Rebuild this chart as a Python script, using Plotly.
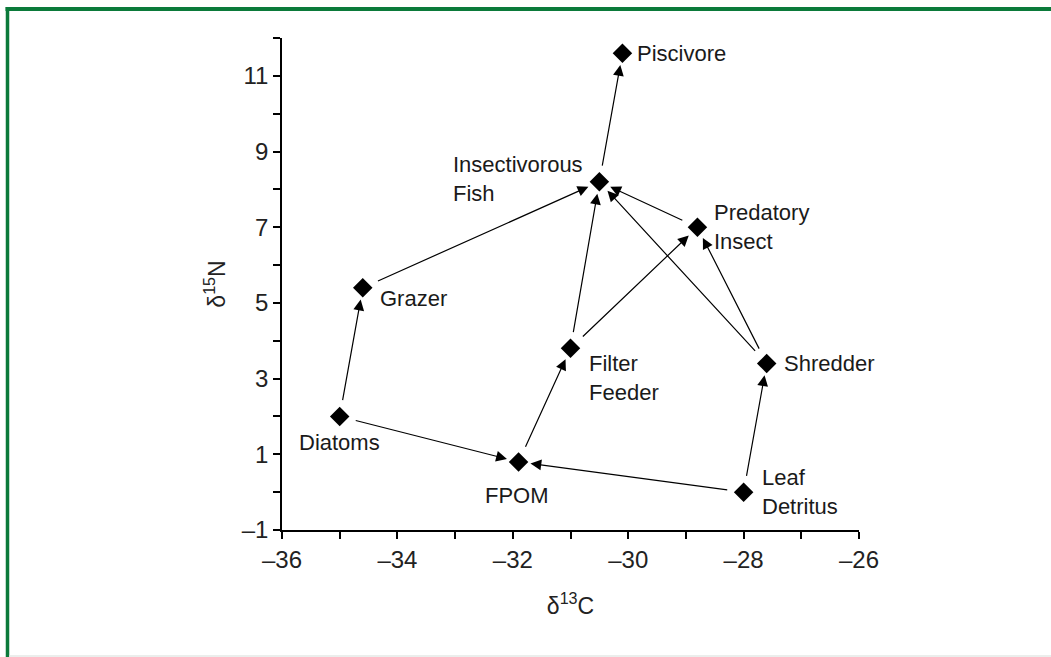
import plotly.graph_objects as go

# ---- data ----
names = ["Piscivore", "Insectivorous<br>Fish", "Predatory<br>Insect", "Grazer",
         "Filter<br>Feeder", "Shredder", "Diatoms", "FPOM", "Leaf<br>Detritus"]
d13C = [-30.1, -30.5, -28.8, -34.6, -31.0, -27.6, -35.0, -31.9, -28.0]
d15N = [11.6, 8.2, 7.0, 5.4, 3.8, 3.4, 2.0, 0.8, 0.0]

# food-web links: (source index, consumer index)
links_from = [6, 6, 3, 7, 4, 4, 8, 8, 5, 5, 2, 1]
links_to   = [3, 7, 1, 4, 1, 2, 7, 5, 1, 2, 1, 0]

x_ticks = [-36, -34, -32, -30, -28, -26]
y_ticks = [-1, 1, 3, 5, 7, 9, 11]

# label placement relative to each point (styling only)
lab_anchor = ["left", "right", "left", "left", "left", "left", "center", "center", "left"]
lab_xshift = [13, -14, 15, 15, 16, 15, 0, -2, 16]
lab_yshift = [0, 3, 0, -11, -30, 0, -26, -34, 0]

W, H = 1051, 657
ML, MR, MT, MB = 282, 192, 38, 127
FONT = "Liberation Sans Narrow, Arial Narrow, Liberation Sans, Arial, sans-serif"

fig = go.Figure()
fig.add_trace(go.Scatter(
    x=d13C, y=d15N, mode="markers",
    marker=dict(symbol="diamond", size=15, color="black"),
    hoverinfo="skip", showlegend=False))

annotations = []
for a, b in zip(links_from, links_to):
    annotations.append(dict(
        x=d13C[b], y=d15N[b], ax=d13C[a], ay=d15N[a],
        xref="x", yref="y", axref="x", ayref="y",
        showarrow=True, arrowhead=2, arrowsize=1.8, arrowwidth=1.2,
        arrowcolor="black", standoff=12, startstandoff=15, text=""))

for i, n in enumerate(names):
    annotations.append(dict(
        x=d13C[i], y=d15N[i], xref="x", yref="y", text=n, showarrow=False,
        xanchor=lab_anchor[i], yanchor="middle", align="left",
        xshift=lab_xshift[i], yshift=lab_yshift[i],
        font=dict(family=FONT, size=22, color="#1a1a1a")))

# green frame (top and left), converted from pixel to paper units
pw, ph = W - ML - MR, H - MT - MB
def px2paper_x(px):
    return (px - ML) / pw
def px2paper_y(py):
    return (H - MB - py) / ph

shapes = [
    dict(type="line", xref="paper", yref="paper",
         x0=px2paper_x(5.5), x1=px2paper_x(W + 5), y0=px2paper_y(9), y1=px2paper_y(9),
         line=dict(color="#0b7a3a", width=4)),
    dict(type="line", xref="paper", yref="paper",
         x0=px2paper_x(7.5), x1=px2paper_x(7.5), y0=px2paper_y(7), y1=px2paper_y(H + 5),
         line=dict(color="#0b7a3a", width=3.5)),
    dict(type="line", xref="paper", yref="paper",
         x0=px2paper_x(9), x1=px2paper_x(W + 5), y0=px2paper_y(656), y1=px2paper_y(656),
         line=dict(color="#e4e9e6", width=1.5)),
]

axis_common = dict(showline=True, linecolor="black", linewidth=1.5,
                   ticks="outside", ticklen=7, tickwidth=1.5, tickcolor="black",
                   showgrid=False, zeroline=False,
                   tickfont=dict(family=FONT, size=24, color="#222"))

fig.update_layout(
    width=W, height=H,
    margin=dict(l=ML, r=MR, t=MT, b=MB, autoexpand=False),
    paper_bgcolor="white", plot_bgcolor="white",
    xaxis=dict(range=[-36, -26], tickvals=x_ticks,
               ticktext=[f"\u2013{abs(v)}" for v in x_ticks],
               minor=dict(dtick=1, tick0=-36, ticks="outside", ticklen=7,
                          tickwidth=1.5, tickcolor="black"),
               title=dict(text="\u03b4<sup>13</sup>C", standoff=26,
                          font=dict(family=FONT, size=23, color="#222")),
               **axis_common),
    yaxis=dict(range=[-1, 12], tickvals=y_ticks,
               ticktext=[(f"\u2013{abs(v)}" if v < 0 else str(v)) for v in y_ticks],
               minor=dict(dtick=1, tick0=-1, ticks="outside", ticklen=7,
                          tickwidth=1.5, tickcolor="black"),
               title=dict(text="\u03b4<sup>15</sup>N", standoff=10,
                          font=dict(family=FONT, size=23, color="#222")),
               **axis_common),
    annotations=annotations,
    shapes=shapes,
)

fig.write_html("out.html")
